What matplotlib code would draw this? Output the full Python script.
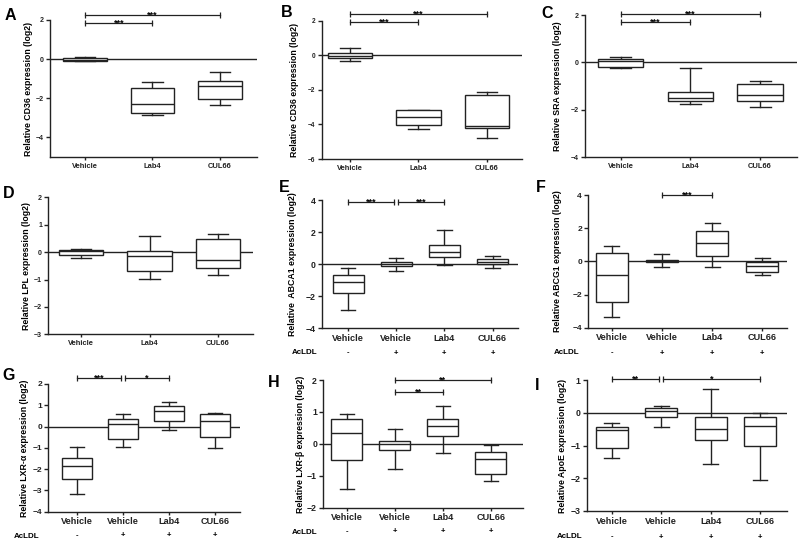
import matplotlib
matplotlib.use("Agg")
import matplotlib.pyplot as plt

W, H = 800, 544
INK = "#222222"

plt.rcParams.update({
    "font.family": ["Liberation Sans", "DejaVu Sans"],
    "font.weight": "bold",
    "axes.labelweight": "bold",
    "axes.linewidth": 1.0,
    "axes.spines.top": False,
    "axes.spines.right": False,
    "axes.edgecolor": INK,
    "xtick.color": INK,
    "ytick.color": INK,
})

GROUPS_3 = ["Vehicle", "Lab4", "CUL66"]
GROUPS_4 = ["Vehicle", "Vehicle", "Lab4", "CUL66"]
ACLDL = ["-", "+", "+", "+"]

# box summaries per group: (low whisker, Q1, median, Q3, high whisker)
cd36_a = [(-0.12, -0.08, -0.02, 0.06, 0.12),
          (-2.85, -2.74, -2.31, -1.45, -1.16),
          (-2.32, -2.03, -1.38, -1.13, -0.65)]
cd36_b = [(-0.33, -0.14, -0.02, 0.14, 0.41),
          (-4.24, -4.05, -3.55, -3.16, -3.14),
          (-4.80, -4.18, -4.10, -2.29, -2.13)]
sra_c = [(-0.25, -0.18, 0.04, 0.14, 0.24),
         (-1.76, -1.63, -1.48, -1.24, -0.23),
         (-1.90, -1.63, -1.39, -0.93, -0.80)]
lpl_d = [(-0.23, -0.12, 0.04, 0.07, 0.10),
         (-0.99, -0.68, -0.15, 0.05, 0.59),
         (-0.84, -0.57, -0.28, 0.46, 0.66)]
abca1_e = [(-2.88, -1.83, -1.12, -0.68, -0.27),
           (-0.41, -0.10, -0.02, 0.12, 0.39),
           (-0.04, 0.46, 0.73, 1.18, 2.16),
           (-0.21, 0.04, 0.15, 0.29, 0.52)]
abcg1_f = [(-3.37, -2.48, -0.85, 0.53, 0.93),
           (-0.32, -0.06, 0.0, 0.06, 0.44),
           (-0.34, 0.30, 1.13, 1.84, 2.30),
           (-0.80, -0.65, -0.30, -0.02, 0.18)]
lxra_g = [(-3.17, -2.47, -1.84, -1.48, -0.98),
          (-0.98, -0.59, 0.11, 0.34, 0.61),
          (-0.16, 0.27, 0.73, 0.97, 1.17),
          (-1.03, -0.47, 0.27, 0.59, 0.66)]
lxrb_h = [(-1.40, -0.50, 0.34, 0.79, 0.93),
          (-0.78, -0.18, 0.01, 0.08, 0.45),
          (-0.29, 0.26, 0.56, 0.79, 1.18),
          (-1.16, -0.95, -0.46, -0.25, -0.05)]
apoe_i = [(-1.38, -1.08, -0.53, -0.45, -0.31),
          (-0.43, -0.12, 0.05, 0.13, 0.20),
          (-1.55, -0.84, -0.50, -0.14, 0.72),
          (-2.05, -1.00, -0.41, -0.14, -0.02)]

# significance comparisons: (group from, group to, bar height, stars)
sig_a = [(1, 2, 1.85, "***"), (1, 3, 2.26, "***")]
sig_b = [(1, 2, 1.92, "***"), (1, 3, 2.39, "***")]
sig_c = [(1, 2, 1.70, "***"), (1, 3, 2.05, "***")]
sig_e = [(1, 1.96, 3.9, "***"), (2.04, 3, 3.9, "***")]
sig_f = [(2, 3, 4.0, "***")]
sig_g = [(1, 1.96, 2.27, "***"), (2.04, 3, 2.27, "*")]
sig_h = [(2, 3, 1.63, "**"), (2, 4, 2.0, "**")]
sig_i = [(1, 1.96, 1.03, "**"), (2.04, 4, 1.03, "*")]

# panel layout in pixels: left, top, right, bottom of the axes
panels = [
    dict(letter="A", at=(10, 15), box=(50, 20, 257, 157), xlim=(0.48, 3.55),
         stats=cd36_a, groups=GROUPS_3, sig=sig_a, ylim=(-5, 2), yticks=[-4, -2, 0, 2],
         ylabel="Relative CD36 expression (log2)", lpad=17, tfs=5.0, xfs=5.4),
    dict(letter="B", at=(287, 12.5), box=(321.7, 20.7, 522, 159), xlim=(0.59, 3.51),
         stats=cd36_b, groups=GROUPS_3, sig=sig_b, ylim=(-6, 2), yticks=[-6, -4, -2, 0, 2],
         ylabel="Relative CD36 expression (log2)", lpad=23, tfs=4.7, xfs=5.4),
    dict(letter="C", at=(547, 14), box=(585, 15, 797, 157.3), xlim=(0.49, 3.53),
         stats=sra_c, groups=GROUPS_3, sig=sig_c, ylim=(-4, 2), yticks=[-4, -2, 0, 2],
         ylabel="Relative SRA expression (log2)", lpad=23, tfs=5.0, xfs=5.4),
    dict(letter="D", at=(9, 193), box=(48.3, 197.3, 253, 334.3), xlim=(0.52, 3.51),
         stats=lpl_d, groups=GROUPS_3, sig=[], ylim=(-3, 2), yticks=[-3, -2, -1, 0, 1, 2],
         ylabel="Relative LPL expression (log2)", lpad=17, tfs=5.0, xfs=5.4),
    dict(letter="E", at=(284, 188), box=(321.7, 200, 518, 328.3), xlim=(0.45, 4.53),
         stats=abca1_e, groups=GROUPS_4, sig=sig_e, ylim=(-4, 4), yticks=[-4, -2, 0, 2, 4],
         ylabel="Relative  ABCA1 expression (log2)", lpad=25, tfs=6.3, xfs=6.6,
         acldl=(305, 353)),
    dict(letter="F", at=(541, 187), box=(588.3, 195, 786.7, 327.7), xlim=(0.53, 4.49),
         stats=abcg1_f, groups=GROUPS_4, sig=sig_f, ylim=(-4, 4), yticks=[-4, -2, 0, 2, 4],
         ylabel="Relative ABCG1 expression (log2)", lpad=26, tfs=6.0, xfs=6.6,
         acldl=(567, 353)),
    dict(letter="G", at=(9, 375), box=(48.3, 384, 240, 511.7), xlim=(0.37, 4.54),
         stats=lxra_g, groups=GROUPS_4, sig=sig_g, ylim=(-4, 2), yticks=[-4, -3, -2, -1, 0, 1, 2],
         ylabel="Relative LXR-α expression (log2)", lpad=19, tfs=6.0, xfs=6.6,
         acldl=(27, 536)),
    dict(letter="H", at=(274, 382.5), box=(323.3, 380, 523, 507.7), xlim=(0.51, 4.67),
         stats=lxrb_h, groups=GROUPS_4, sig=sig_h, ylim=(-2, 2), yticks=[-2, -1, 0, 1, 2],
         ylabel="Relative LXR-β expression (log2)", lpad=18, tfs=6.3, xfs=6.6,
         acldl=(305, 532)),
    dict(letter="I", at=(537.5, 385), box=(586.7, 380, 786.7, 511), xlim=(0.49, 4.54),
         stats=apoe_i, groups=GROUPS_4, sig=sig_i, ylim=(-3, 1), yticks=[-3, -2, -1, 0, 1],
         ylabel="Relative ApoE expression (log2)", lpad=20, tfs=6.3, xfs=6.6,
         acldl=(570, 537)),
]


def draw_panel(fig, p):
    l, t, r, b = p["box"]
    ax = fig.add_axes([l / W, 1 - b / H, (r - l) / W, (b - t) / H])
    n = len(p["groups"])
    pos = list(range(1, n + 1))
    stats = [dict(whislo=s[0], q1=s[1], med=s[2], q3=s[3], whishi=s[4], fliers=[])
             for s in p["stats"]]
    ax.axhline(0, color=INK, lw=1.0, zorder=1)
    ax.bxp(stats, positions=pos, widths=0.65, capwidths=0.3, patch_artist=True,
           showfliers=False, manage_ticks=False,
           boxprops=dict(facecolor="white", edgecolor=INK, linewidth=1.0, zorder=3),
           medianprops=dict(color=INK, linewidth=1.0, zorder=4),
           whiskerprops=dict(color=INK, linewidth=1.0, zorder=2),
           capprops=dict(color=INK, linewidth=1.0, zorder=2))
    ax.set_xlim(*p["xlim"])
    ax.set_ylim(*p["ylim"])
    ax.set_yticks(p["yticks"])
    ax.set_xticks(pos)
    ax.set_xticklabels(p["groups"])
    ax.tick_params(axis="y", length=3, width=1.0, pad=1.5, labelsize=p["tfs"])
    ax.tick_params(axis="x", length=2, width=1.0, pad=2, labelsize=p["xfs"])
    ax.set_ylabel(p["ylabel"], fontsize=6.3)
    ax.yaxis.set_label_coords(-p["lpad"] / (r - l), 0.5)

    for x1, x2, y, stars in p["sig"]:
        ax.plot([x1, x2], [y, y], color=INK, lw=0.9, marker="|", ms=5, mew=0.9,
                clip_on=False)
        ax.annotate(stars, ((x1 + x2) / 2, y), xytext=(0, -1.8), textcoords="offset points",
                    ha="center", va="baseline", fontsize=6.5, annotation_clip=False)

    if "acldl" in p:
        ax_, ay_ = p["acldl"]
        fig.text(ax_ / W, 1 - ay_ / H, "AcLDL", ha="center", va="center", fontsize=5.8)
        yfrac = (b - ay_) / (b - t)
        for x, sign in zip(pos, ACLDL):
            ax.text(x, yfrac, sign, transform=ax.get_xaxis_transform(), ha="center",
                    va="center", fontsize=5.5, clip_on=False)

    fx, fy = p["at"]
    fig.text(fx / W, 1 - fy / H, p["letter"], ha="center", va="center", fontsize=11.5,
             fontweight="bold")
    return ax


fig = plt.figure(figsize=(W / 100, H / 100), dpi=100)
for p in panels:
    draw_panel(fig, p)
fig.savefig("out.png", dpi=100, facecolor="white")
